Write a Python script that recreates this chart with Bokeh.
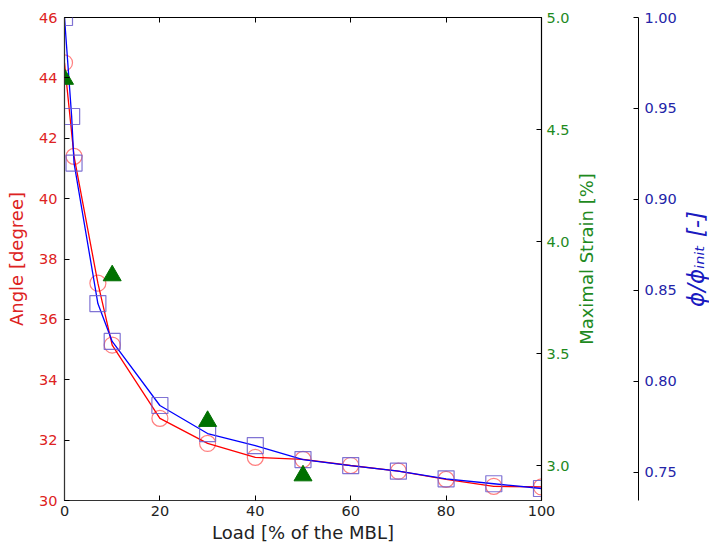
import math
from bokeh.plotting import figure
from bokeh.models import Range1d, LinearAxis, FixedTicker, PrintfTickFormatter, Label
from bokeh.embed import file_html
from bokeh.resources import INLINE

# ---- data ----
load_angle = [0, 2, 7, 10, 20, 30, 40, 50, 60, 70, 80, 90, 100]
angle_deg = [44.5, 41.4, 37.2, 35.15, 32.72, 31.89, 31.43, 31.36, 31.16, 30.97, 30.70, 30.47, 30.45]

load_phi = [0, 1.5, 2, 7, 10, 20, 30, 40, 50, 60, 70, 80, 90, 100]
phi_ratio = [1.0, 0.9456, 0.920, 0.8428, 0.8220, 0.7868, 0.7714, 0.7648, 0.7571, 0.7538,
             0.7507, 0.7465, 0.7438, 0.7412]

load_strain = [0, 10, 30, 50]
max_strain = [4.725, 3.848, 3.198, 2.955]

x_ticks = [0, 20, 40, 60, 80, 100]
angle_ticks = [30, 32, 34, 36, 38, 40, 42, 44, 46]
strain_ticks = [3.0, 3.5, 4.0, 4.5, 5.0]
phi_ticks = [0.75, 0.80, 0.85, 0.90, 0.95, 1.00]

FONT = "DejaVu Sans"
RED = "#dd2222"
GREEN = "#1e8a1e"
BLUE = "#2424a8"

p = figure(width=709, height=549, output_backend="svg", toolbar_location=None,
           x_range=Range1d(0, 100), y_range=Range1d(30, 46),
           min_border_left=64, min_border_right=168, min_border_top=17, min_border_bottom=49)
p.extra_y_ranges = {"strain": Range1d(2.844, 5.0), "phi": Range1d(0.7346, 1.0)}

p.xgrid.visible = False
p.ygrid.visible = False
p.outline_line_color = "black"
p.outline_line_alpha = 1.0
p.outline_line_width = 1.2
p.background_fill_color = "white"
p.border_fill_color = "white"

# x axis
xa = p.xaxis[0]
xa.ticker = FixedTicker(ticks=x_ticks)
xa.axis_label = "Load [% of the MBL]"
xa.axis_label_text_font = FONT
xa.axis_label_text_font_size = "18px"
xa.axis_label_text_font_style = "normal"
xa.axis_label_text_color = "#222222"
xa.axis_label_standoff = 3
xa.major_label_text_font = FONT
xa.major_label_text_font_size = "14.5px"
xa.major_label_text_color = "#222222"
xa.major_label_standoff = 5
xa.major_tick_in = 5
xa.major_tick_out = 0
xa.minor_tick_line_color = None
xa.axis_line_color = "#333333"

# top ticks only (no labels)
top = LinearAxis(ticker=FixedTicker(ticks=x_ticks), major_tick_in=5, major_tick_out=0,
                 minor_tick_line_color=None, axis_line_color=None,
                 major_label_text_color=None, major_label_standoff=0)
p.add_layout(top, "above")

# left axis (angle)
ya = p.yaxis[0]
ya.ticker = FixedTicker(ticks=angle_ticks)
ya.axis_label = "Angle [degree]"
ya.axis_label_text_font = FONT
ya.axis_label_text_font_size = "18px"
ya.axis_label_text_font_style = "normal"
ya.axis_label_text_color = RED
ya.axis_label_standoff = 9
ya.major_label_text_font = FONT
ya.major_label_text_font_size = "14.5px"
ya.major_label_text_color = RED
ya.major_label_standoff = 7
ya.major_tick_in = 5
ya.major_tick_out = 0
ya.minor_tick_line_color = None
ya.axis_line_color = "#333333"

# right axis (strain) - its title is drawn separately so it reads bottom-to-top
ga = LinearAxis(y_range_name="strain", ticker=FixedTicker(ticks=strain_ticks),
                formatter=PrintfTickFormatter(format="%.1f"))
ga.major_label_text_font = FONT
ga.major_label_text_font_size = "14.5px"
ga.major_label_text_color = GREEN
ga.major_label_standoff = 5
ga.major_tick_in = 5
ga.major_tick_out = 0
ga.minor_tick_line_color = None
ga.axis_line_color = "black"
p.add_layout(ga, "right")

# green axis title (side panel, so not clipped to the frame)
p.add_layout(Label(x=109.4, y=38, text="Maximal Strain [%]", angle=math.pi / 2,
                   text_align="center", text_baseline="middle", text_font=FONT,
                   text_font_size="18px", text_color=GREEN), "right")

# spacer between the two right axes (an invisible white tick gives it width)
sp = LinearAxis(y_range_name="strain", ticker=FixedTicker(ticks=[2.9]),
                axis_line_color=None, major_tick_line_color="white", minor_tick_line_color=None,
                major_tick_in=0, major_tick_out=45, major_label_text_color=None,
                major_label_standoff=0)
p.add_layout(sp, "right")

# outer right axis (phi ratio)
ba = LinearAxis(y_range_name="phi", ticker=FixedTicker(ticks=phi_ticks),
                formatter=PrintfTickFormatter(format="%.2f"))
ba.major_label_text_font = FONT
ba.major_label_text_font_size = "14.5px"
ba.major_label_text_color = BLUE
ba.major_label_standoff = 6
ba.major_tick_in = 5
ba.major_tick_out = 0
ba.minor_tick_line_color = None
ba.axis_line_color = "black"
p.add_layout(ba, "right")

p.add_layout(Label(x=132.4, y=38, text="ϕ/ϕᵢₙᵢₜ [-]", angle=math.pi / 2,
                   text_align="center", text_baseline="middle", text_font=FONT,
                   text_font_size="23px", text_font_style="italic", text_color="#1a1ac0"), "right")

# glyphs
p.line(load_angle, angle_deg, line_color="red", line_width=1.3)
p.scatter(load_angle, angle_deg, marker="circle", size=16, fill_color=None,
          line_color="red", line_alpha=0.5, line_width=1.2)
p.line(load_phi, phi_ratio, y_range_name="phi", line_color="blue", line_width=1.3)
p.scatter(load_phi, phi_ratio, y_range_name="phi", marker="square", size=16, fill_color=None,
          line_color="#6a5acd", line_alpha=0.85, line_width=1.2)
p.scatter(load_strain, max_strain, y_range_name="strain", marker="triangle", size=18,
          fill_color="#007000", line_color="#007000")

open("out.html", "w").write(file_html(p, INLINE))
